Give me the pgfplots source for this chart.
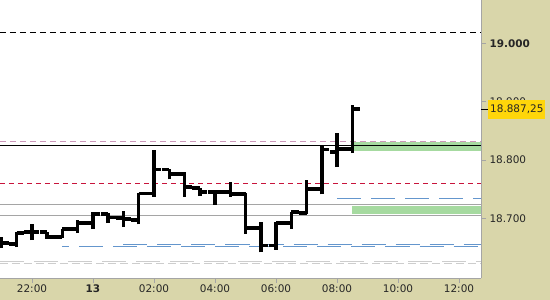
\documentclass[border=0pt]{standalone}
\usepackage{pgfplots}
\usepackage{pgfplotstable}
\pgfplotsset{compat=1.18}
\usepackage{fontspec}
\setmainfont{DejaVu Sans}
\definecolor{beige}{RGB}{217,214,170}
\definecolor{bandgreen}{RGB}{166,218,160}
\definecolor{pinkd}{RGB}{205,150,185}
\definecolor{redd}{RGB}{200,20,60}
\definecolor{blued}{RGB}{100,150,205}
\definecolor{grayl}{RGB}{165,165,165}
\definecolor{grayd}{RGB}{205,205,205}
\definecolor{pricey}{RGB}{255,214,10}
\pgfdeclareplotmark{otick}{\pgfpathmoveto{\pgfpoint{-7.5bp}{0pt}}\pgfpathlineto{\pgfpoint{0pt}{0pt}}\pgfusepathqstroke}
\pgfdeclareplotmark{ctick}{\pgfpathmoveto{\pgfpoint{0pt}{0pt}}\pgfpathlineto{\pgfpoint{7.5bp}{0pt}}\pgfusepathqstroke}
\pgfplotstableread{
t o h l c
-3 18658 18668 18649 18658
-2.5 18656 18677 18651 18675
-2 18677 18690 18663 18677
-1.5 18677 18677 18665 18668
-1 18668 18682 18666 18682
-0.5 18682 18697 18675 18692
0 18692 18711 18682 18708
0.5 18708 18709 18692 18702
1 18701 18713 18685 18699
1.5 18697 18743 18690 18743
2 18743 18817 18737 18784
2.5 18784 18785 18767 18776
3 18776 18780 18737 18754
3.5 18752 18752 18738 18745
4 18745 18749 18723 18745
4.5 18745 18762 18737 18742
5 18742 18743 18674 18684
5.5 18684 18694 18642 18654
6 18654 18694 18646 18692
6.5 18692 18711 18682 18711
7 18709 18766 18707 18750
7.5 18750 18824 18741 18818
8 18814 18846 18788 18819
8.5 18819 18894 18812 18887.25
}\ohlc
\begin{document}
\begin{tikzpicture}
\useasboundingbox (0,-22bp) rectangle (550bp,278bp);
\fill[beige] (0,-22bp) rectangle (550bp,0);
\fill[beige] (481bp,0) rectangle (550bp,278bp);
\begin{axis}[
  at={(0,0)}, anchor=south west, scale only axis,
  width=481bp, height=278bp,
  xmin=-3.049, xmax=12.721, ymin=18598, ymax=19074,
  axis x line*=bottom, axis y line*=right,
  axis line style={grayl},
  tick align=outside, major tick length=5bp,
  tick style={grayl, line width=0.8bp},
  xtick={-2,0,2,4,6,8,10,12},
  xticklabels={22:00,\textbf{13},02:00,04:00,06:00,08:00,10:00,12:00},
  xticklabel style={yshift=2bp},
  ytick={18700,18800,18900,19000},
  yticklabels={18.700,18.800,18.900,\textbf{19.000}},
  ticklabel style={font=\fontsize{10.5}{12}\selectfont, text=black!85},
  clip mode=individual,
]
% horizontal levels
\addplot[black, line width=1bp, dash pattern=on 6bp off 4bp] coordinates {(-3.049,19019) (12.721,19019)};
\addplot[bandgreen, fill=bandgreen, draw=none] coordinates {(8.5,18815.5) (12.721,18815.5) (12.721,18831) (8.5,18831)} -- cycle;
\addplot[bandgreen, fill=bandgreen, draw=none] coordinates {(8.5,18707) (12.721,18707) (12.721,18721) (8.5,18721)} -- cycle;
\addplot[pinkd, line width=1bp, dash pattern=on 6bp off 4bp] coordinates {(-3.049,18832.5) (12.721,18832.5)};
\addplot[black, line width=1bp] coordinates {(-3.049,18825) (12.721,18825)};
\addplot[redd, line width=1bp, dash pattern=on 5bp off 4bp] coordinates {(-3.049,18759) (12.721,18759)};
\addplot[blued, line width=1bp, dash pattern=on 24bp off 10bp] coordinates {(8,18734) (12.721,18734)};
\addplot[grayl, line width=1bp] coordinates {(-3.049,18723) (12.721,18723)};
\addplot[grayl, line width=1bp] coordinates {(-3.049,18705.5) (12.721,18705.5)};
\addplot[blued, line width=1bp, dash pattern=on 24bp off 10bp] coordinates {(1,18656) (12.721,18656)};
\addplot[blued, line width=1bp, dash pattern=on 24bp off 10bp, dash phase=17bp] coordinates {(-1,18652.5) (12.721,18652.5)};
\addplot[grayd, line width=1bp, dash pattern=on 24bp off 10bp] coordinates {(-3.049,18627) (12.721,18627)};
\addplot[grayd, line width=1bp, dash pattern=on 8bp off 4bp] coordinates {(-3.049,18622) (12.721,18622)};
% OHLC bars
\addplot[draw=none, mark=none, forget plot,
  error bars/.cd, y dir=plus, y explicit, error mark=none,
  error bar style={draw=black, solid, line width=3.5bp, line cap=butt}]
  table[x=t, y=l, y error plus expr=\thisrow{h}-\thisrow{l}] {\ohlc};
\addplot[only marks, mark=otick, mark options={black, solid, line width=3.5bp, line cap=butt}] table[x=t, y=o] {\ohlc};
\addplot[only marks, mark=ctick, mark options={black, solid, line width=3.5bp, line cap=butt}] table[x=t, y=c] {\ohlc};
% price label
\draw[black, line width=1bp] (axis cs:12.721,18887.25) -- ([xshift=7bp]axis cs:12.721,18887.25);
\node[fill=pricey, anchor=west, inner xsep=2bp, inner ysep=0pt, minimum height=19bp,
  font=\fontsize{10.5}{12}\selectfont, text=black!85] at ([xshift=7bp]axis cs:12.721,18887.25) {18.887,25};
\end{axis}
\end{tikzpicture}
\end{document}
